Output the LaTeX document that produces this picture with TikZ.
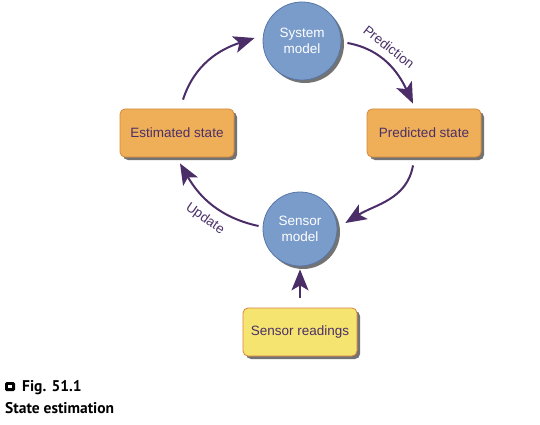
\documentclass[tikz,border=0pt]{standalone}
\usepackage{fontspec}
\setmainfont{Liberation Sans}
\newfontfamily\capfont{PT Sans}
\usetikzlibrary{shadows,arrows.meta}
\definecolor{circfill}{HTML}{7A9CCB}
\definecolor{circline}{HTML}{5676A8}
\definecolor{boxfill}{HTML}{EFAE58}
\definecolor{boxline}{HTML}{D58A3C}
\definecolor{yelfill}{HTML}{F6E470}
\definecolor{yelline}{HTML}{D9823E}
\definecolor{ink}{HTML}{4A3068}
\definecolor{arrowc}{HTML}{4B2D68}
\tikzset{
  shad/.style={drop shadow={shadow xshift=3pt,shadow yshift=-3pt,opacity=0.55,fill=black}},
  modelnode/.style={circle,draw=circline,line width=0.8pt,fill=circfill,text=white,
    align=center,font=\fontsize{13.5}{16}\selectfont,shad},
  statebox/.style={rectangle,rounded corners=5pt,draw=boxline,line width=0.8pt,fill=boxfill,
    text=ink,minimum width=114pt,minimum height=48pt,font=\fontsize{13.5}{16}\selectfont,shad},
  readbox/.style={statebox,fill=yelfill,draw=yelline},
  arr/.style={draw=arrowc,line width=2pt,-{Stealth[length=21pt,width=17pt,inset=5pt]}},
  lbl/.style={text=ink,font=\fontsize{13.5}{16}\selectfont},
  captxt/.style={font=\capfont\bfseries\fontsize{15.5}{18}\selectfont,anchor=base west,inner sep=0pt}
}
\begin{document}
\begin{tikzpicture}[x=1pt,y=1pt]
\useasboundingbox (0,0) rectangle (540,-425);
\node[modelnode,minimum size=78pt] (sys) at (302,-41) {System\\model};
\node[modelnode,minimum size=74pt] (sen) at (300,-229) {Sensor\\model};
\node[statebox] (est) at (177,-133) {Estimated state};
\node[statebox] (pred) at (424,-133) {Predicted state};
\node[readbox] (read) at (300,-332) {Sensor readings};
% connectors
\coordinate (a1s) at ([xshift=6pt,yshift=9pt]est.north);
\coordinate (a1e) at ([xshift=-8pt,yshift=3pt]sys.west);
\draw[arr] (a1s) to[out=72,in=198] (a1e);
\coordinate (a2s) at ([xshift=6pt,yshift=-2pt]sys.east);
\coordinate (a2e) at ([xshift=-11pt,yshift=5pt]pred.north);
\draw[arr] (a2s) to[out=-10,in=115] (a2e);
\coordinate (a3s) at ([xshift=-11pt,yshift=-8pt]pred.south);
\coordinate (a3e) at ([xshift=8pt,yshift=6pt]sen.east);
\draw[arr] (a3s) to[out=-100,in=32] (a3e);
\coordinate (a4s) at ([xshift=-4pt,yshift=3pt]sen.west);
\coordinate (a4e) at ([xshift=3pt,yshift=-6pt]est.south);
\draw[arr] (a4s) to[out=168,in=-60] (a4e);
\coordinate (a5s) at ([yshift=10pt]read.north);
\coordinate (a5e) at ([yshift=-3pt]sen.south);
\draw[arr] (a5s) -- (a5e);
% labels
\node[lbl,rotate=-38] (plab) at (389,-47) {Prediction};
\node[lbl,rotate=-35] (ulab) at (205,-219) {Update};
% caption
\node[fill=black,rounded corners=1.5pt,minimum width=10pt,minimum height=9pt,inner sep=0pt] (icon) at (10,-386.5) {};
\node[fill=white,minimum size=3.5pt,inner sep=0pt] (icondot) at (icon.center) {};
\node[captxt] (fig) at (22,-391.5) {Fig. 51.1};
\node[captxt] (cap) at (5,-413) {State estimation};
\end{tikzpicture}
\end{document}
